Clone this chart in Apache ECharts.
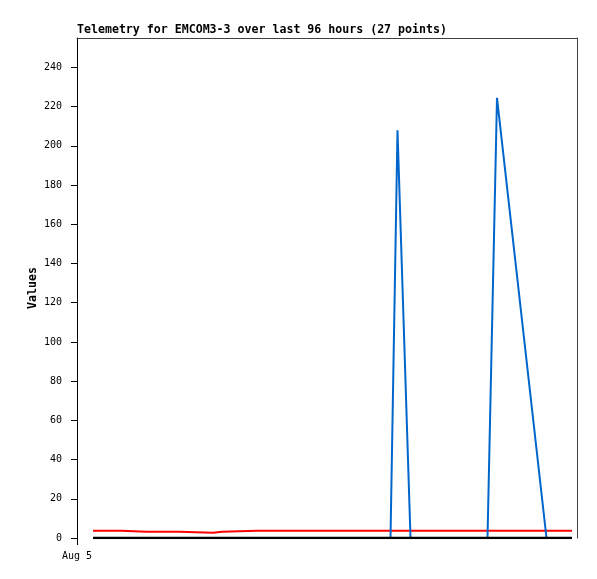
<!DOCTYPE html>
<html>
<head>
<meta charset="utf-8">
<script src="https://cdn.jsdelivr.net/npm/echarts@6/dist/echarts.min.js"></script>
<style>html,body{margin:0;padding:0;background:#fff}#c{width:597px;height:579px}</style>
</head>
<body>
<div id="c"></div>
<script>
// hours since Aug 5 00:00
var hours = [3.2, 8.8, 9.2, 14, 20.4, 20.8, 27.2, 27.6, 29, 29.4, 36, 43, 50, 57, 62.7, 64.1, 66.7, 71, 76, 82.1, 84, 93.9, 95, 96, 97, 98, 99];
var blueValues = [0,0,0,0,0,0,0,0,0,0,0,0,0,0,0,208,0,0,0,0,224.5,0,0,0,0,0,0];
var redValues = [3.7,3.7,3.2,3.2,3.2,2.7,2.7,3.2,3.2,3.7,3.7,3.7,3.7,3.7,3.7,3.7,3.7,3.7,3.7,3.7,3.7,3.7,3.7,3.7,3.7,3.7,3.7];
var blackValues = [0,0,0,0,0,0,0,0,0,0,0,0,0,0,0,0,0,0,0,0,0,0,0,0,0,0,0];
var yTicks = [0,20,40,60,80,100,120,140,160,180,200,220,240];
var xTicks = [0];
var xTickLabels = ['Aug 5'];
var titleText = 'Telemetry for EMCOM3-3 over last 96 hours (27 points)';
var yName = 'Values';

function pairs(vals){ return hours.map(function(h,i){ return [h, vals[i]]; }); }

var mono = 'DejaVu Sans Mono';
var chart = echarts.init(document.getElementById('c'));
chart.setOption({
  animation: false,
  backgroundColor: '#fff',
  title: {
    text: titleText, left: 77, top: 24, padding: 0,
    textStyle: { fontFamily: mono, fontSize: 11.6, fontWeight: 'bold', color: '#000' }
  },
  grid: { left: 77, top: 38, width: 500, height: 500, containLabel: false },
  xAxis: [{
    type: 'value', min: 0, max: 100,
    axisLine: { show: true, onZero: false, lineStyle: { color: '#000', opacity: 0 } },
    splitLine: { show: false },
    axisTick: { show: true, length: 7, lineStyle: { color: '#000', width: 1, opacity: 1 }, customValues: xTicks },
    axisLabel: { customValues: xTicks, margin: 13, fontFamily: mono, fontSize: 10, color: '#000',
      formatter: function(v){ var i = xTicks.indexOf(v); return i >= 0 ? xTickLabels[i] : ''; } }
  }, {
    type: 'value', min: 0, max: 100, position: 'top',
    axisLine: { show: true, onZero: false, lineStyle: { color: '#404040', width: 1 } },
    axisTick: { show: false }, axisLabel: { show: false }, splitLine: { show: false }
  }],
  yAxis: [{
    type: 'value', min: 0, max: 255,
    name: yName, nameLocation: 'middle', nameGap: 38, nameRotate: 90, nameMoveOverlap: false,
    nameTextStyle: { fontFamily: mono, fontSize: 11.6, fontWeight: 'bold', color: '#000' },
    axisLine: { show: true, onZero: false, lineStyle: { color: '#000', width: 1 } },
    axisTick: { show: true, length: 6, lineStyle: { color: '#000', width: 1 }, customValues: yTicks },
    axisLabel: { customValues: yTicks, margin: 15, fontFamily: mono, fontSize: 10, color: '#000' },
    splitLine: { show: false }
  }, {
    type: 'value', min: 0, max: 255, position: 'right',
    axisLine: { show: true, onZero: false, lineStyle: { color: '#404040', width: 1 } },
    axisTick: { show: false }, axisLabel: { show: false }, splitLine: { show: false }
  }],
  series: [
    { type: 'line', data: pairs(redValues), showSymbol: false, symbol: 'none', z: 2,
      lineStyle: { color: '#ff0000', width: 2 } },
    { type: 'line', data: pairs(blueValues), showSymbol: false, symbol: 'none', z: 3,
      lineStyle: { color: '#0066cc', width: 2 } },
    { type: 'line', data: pairs(blackValues), showSymbol: false, symbol: 'none', z: 4,
      lineStyle: { color: '#000000', width: 2.5 } }
  ]
});
</script>
</body>
</html>
